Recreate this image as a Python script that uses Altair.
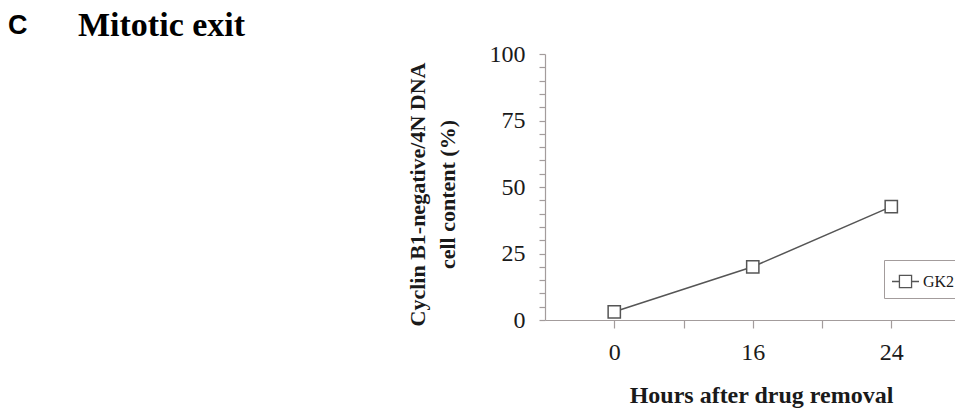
import altair as alt
import pandas as pd

# ---- data ----
hours = ["0", "16", "24"]
values = [3.1, 20.0, 42.6]
series_name = "GK2"
y_tick_values = list(range(0, 101, 5))
y_label_step = 25
x_tick_values = [0, 0.5, 1, 1.5, 2]

df = pd.DataFrame({
    "hours": hours,
    "pos": list(range(len(hours))),
    "value": values,
    "series": [series_name] * len(hours),
})

axis_col = "#a39c9c"
line_col = "#555555"
text_col = "#1a1a1a"
serif = "Liberation Serif"

x_label_expr = " : ".join(
    f"datum.value == {i} ? '{h}'" for i, h in enumerate(hours)
) + " : ''"

x_enc = alt.X(
    "pos:Q",
    scale=alt.Scale(domain=[-0.5, 2.46], nice=False, zero=False),
    axis=alt.Axis(
        values=x_tick_values, labelExpr=x_label_expr, tickSize=8,
        labelPadding=12, labelFontSize=24, labelOverlap=False, labelFlush=False,
        title="Hours after drug removal", titleFontSize=24, titleFontWeight="bold",
        titleX=216, titleY=82, titleAlign="center", titleBaseline="alphabetic",
    ),
)
y_enc = alt.Y(
    "value:Q",
    scale=alt.Scale(domain=[0, 100], nice=False),
    axis=alt.Axis(
        values=y_tick_values,
        labelExpr=f"datum.value % {y_label_step} == 0 ? datum.label : ''",
        tickSize=6, labelPadding=14, labelFontSize=24,
        title=["Cyclin B1-negative/4N DNA", "cell content (%)"],
        titleFontSize=22, titleFontWeight="bold", titleAngle=270,
        titleX=-128, titleY=140, titleAlign="center", titleBaseline="middle",
        titleLineHeight=30,
    ),
)
color_enc = alt.Color(
    "series:N",
    scale=alt.Scale(domain=[series_name], range=[line_col]),
    legend=alt.Legend(
        title=None, orient="none", legendX=339, legendY=206,
        symbolType="M-1,0H-0.45M0.45,0H1M-0.45,-0.45H0.45V0.45H-0.45Z",
        symbolSize=729, symbolStrokeWidth=1.3, symbolFillColor="white",
        symbolStrokeColor=line_col,
        labelFont=serif, labelFontSize=16, labelColor=text_col, labelOffset=3,
        padding=7, strokeColor=axis_col, fillColor="white",
    ),
)

base = alt.Chart(df)
line = base.mark_line(strokeWidth=1.5).encode(x=x_enc, y=y_enc, color=color_enc)
points = base.mark_point(
    shape="square", filled=False, fill="white", size=150, strokeWidth=1.5, opacity=1
).encode(x=x_enc, y=y_enc, color=color_enc)

panel_df = pd.DataFrame({"t": ["C"]})
panel_letter = alt.Chart(panel_df).mark_text(
    font="Liberation Sans", fontWeight="bold", fontSize=27, align="left",
    baseline="alphabetic", color="black",
).encode(x=alt.value(8 - 545), y=alt.value(34 - 54), text="t:N")

chart = alt.layer(line, points, panel_letter).properties(
    width=410,
    height=266,
    title=alt.TitleParams(
        text="Mitotic exit", font=serif, fontSize=34, fontWeight="bold",
        anchor="start", frame="group", dx=78 - 545, dy=35, color="black",
    ),
    autosize=alt.AutoSizeParams(type="none"),
    padding={"left": 545, "top": 54, "right": 0, "bottom": 90},
).configure_view(stroke=None).configure_axis(
    domainColor=axis_col, tickColor=axis_col, grid=False,
    labelFont=serif, titleFont=serif, labelColor=text_col, titleColor=text_col,
    domainWidth=1.2, tickWidth=1.2,
)

chart.save("out.html", embed_options={"renderer": "svg", "actions": False})
